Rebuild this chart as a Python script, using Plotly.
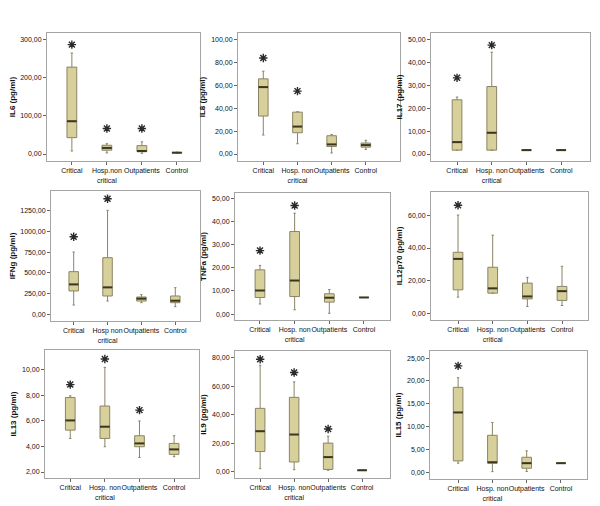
import plotly.graph_objects as go

W, H = 600, 506

# ---------------- data ----------------
groups = ["Critical", "Hosp. non critical", "Outpatients", "Control"]
positions = [0, 1, 2, 3]

titles = ["IL6 (pg/ml)", "IL8 (pg/ml)", "IL17 (pg/ml)",
          "IFNg (pg/ml)", "TNFa (pg/ml)", "IL12p70 (pg/ml)",
          "IL13 (pg/ml)", "IL9 (pg/ml)", "IL15 (pg/ml)"]

cat_labels = [
    ["Critical", "Hosp.non<br>critical", "Outpatients", "Control"],
    ["Critical", "Hosp. non<br>critical", "Outpatients", "Control"],
    ["Critical", "Hosp. non<br>critical", "Outpatients", "Control"],
    ["Critical", "Hosp non<br>critical", "Outpatients", "Control"],
    ["Critical", "Hosp. non<br>critical", "Outpatients", "Control"],
    ["Critical", "Hosp. non<br>critical", "Outpatients", "Control"],
    ["Critical", "Hosp. non<br>critical", "Outpatients", "Control"],
    ["Critical", "Hosp. non<br>critical", "Outpatients", "Control"],
    ["Critical", "Hosp. non<br>critical", "Outpatients", "Control"],
]

il6_lower = [8, 3, 2, 2.5]
il6_q1 = [43, 10, 6, 3]
il6_med = [86, 16, 8, 3.5]
il6_q3 = [228, 23, 22, 4.2]
il6_upper = [265, 27, 32, 5]
il6_star = [287, 67, 67, None]

il8_lower = [16.6, 9, 0.9, 4]
il8_q1 = [33.2, 18.6, 6.6, 6]
il8_med = [58.5, 24, 8.4, 7.8]
il8_q3 = [65.7, 36.6, 16, 9.6]
il8_upper = [72.4, 37, 17.1, 12]
il8_star = [84, 55, None, None]

il17_lower = [1.7, 1.7, 1.7, 1.7]
il17_q1 = [1.7, 1.7, 1.7, 1.7]
il17_med = [5.2, 9.3, 1.7, 1.7]
il17_q3 = [23.7, 29.5, 1.7, 1.7]
il17_upper = [24.9, 44.5, 1.7, 1.7]
il17_star = [33.3, 47.6, None, None]

ifng_lower = [113, 161, 141, 93]
ifng_q1 = [283, 222, 161, 141]
ifng_med = [362, 326, 190, 165]
ifng_q3 = [516, 685, 210, 222]
ifng_upper = [753, 1256, 238, 322]
ifng_star = [938, 1397, None, None]

tnfa_lower = [4.4, 1.9, 0.4, 7.2]
tnfa_q1 = [7.2, 7.6, 5.2, 7.2]
tnfa_med = [10.2, 14.5, 7.1, 7.2]
tnfa_q3 = [19.1, 35.6, 8.8, 7.2]
tnfa_upper = [21, 43.5, 10.6, 7.2]
tnfa_star = [27.4, 46.8, None, None]

il12_lower = [10.2, 12.6, 4.5, 5.1]
il12_q1 = [14.6, 12.6, 9.1, 8.2]
il12_med = [33.4, 15.5, 10.6, 13.8]
il12_q3 = [37.4, 28.3, 18.7, 16.7]
il12_upper = [60, 47.8, 22.2, 28.9]
il12_star = [66, None, None, None]

il13_lower = [4.63, 3.98, 3.14, 3.2]
il13_q1 = [5.28, 4.63, 3.98, 3.38]
il13_med = [6.04, 5.55, 4.24, 3.77]
il13_q3 = [7.84, 7.17, 4.84, 4.24]
il13_upper = [7.97, 10.2, 6.0, 4.84]
il13_star = [8.85, 10.86, 6.85, None]

il9_lower = [2.3, 1.6, 1.2, 1.2]
il9_q1 = [14.3, 7, 1.8, 1.2]
il9_med = [28.5, 26.2, 10.4, 1.2]
il9_q3 = [44.5, 52.2, 20.2, 1.2]
il9_upper = [74.6, 63, 25, 1.2]
il9_star = [78.8, 69.6, 30.1, None]

il15_lower = [2, 0.15, 0.2, 2]
il15_q1 = [2.5, 2.0, 0.9, 2]
il15_med = [13.1, 2.2, 2.0, 2]
il15_q3 = [18.6, 8.1, 3.3, 2]
il15_upper = [20.7, 10.9, 4.7, 2]
il15_star = [23.3, None, None, None]

yticks = [
    [0, 100, 200, 300],
    [0, 20, 40, 60, 80, 100],
    [0, 10, 20, 30, 40, 50],
    [0, 250, 500, 750, 1000, 1250],
    [0, 10, 20, 30, 40, 50],
    [0, 20, 40, 60],
    [2, 4, 6, 8, 10],
    [0, 20, 40, 60, 80],
    [0, 5, 10, 15, 20, 25],
]

panels = [
    (il6_lower, il6_q1, il6_med, il6_q3, il6_upper, il6_star),
    (il8_lower, il8_q1, il8_med, il8_q3, il8_upper, il8_star),
    (il17_lower, il17_q1, il17_med, il17_q3, il17_upper, il17_star),
    (ifng_lower, ifng_q1, ifng_med, ifng_q3, ifng_upper, ifng_star),
    (tnfa_lower, tnfa_q1, tnfa_med, tnfa_q3, tnfa_upper, tnfa_star),
    (il12_lower, il12_q1, il12_med, il12_q3, il12_upper, il12_star),
    (il13_lower, il13_q1, il13_med, il13_q3, il13_upper, il13_star),
    (il9_lower, il9_q1, il9_med, il9_q3, il9_upper, il9_star),
    (il15_lower, il15_q1, il15_med, il15_q3, il15_upper, il15_star),
]

# ---------------- layout (pixels) ----------------
frames = [  # left, right, top, bottom
    (39, 192, 25, 153), (230, 392, 25, 153), (423, 582, 25, 153),
    (43, 192, 183, 313), (227, 382, 185, 312), (423, 580, 184, 312),
    (37, 191, 342, 470), (227, 382, 343, 470), (422, 579, 343, 471),
]
yranges = [
    [-18.3, 317.5], [-6.1, 105.8], [-3.05, 52.9],
    [-80, 1490], [-2.5, 52.2], [-3.7, 74],
    [1.53, 11.56], [-4.2, 84.6], [-1.46, 26.55],
]
xranges = [
    [-0.71, 3.66], [-0.74, 4.0], [-0.75, 3.83],
    [-0.67, 3.73], [-0.72, 3.75], [-0.78, 3.75],
    [-0.73, 3.72], [-0.74, 3.82], [-0.82, 3.76],
]

FILL = "#d7d09b"
EDGE = "#8a8464"
MED = "#3b3522"
STAR = "#2a2a2a"
FONT = "Liberation Sans, Arial, sans-serif"
BOXW = 0.28

fig = go.Figure()

for i, (lo, q1, med, q3, up, star) in enumerate(panels):
    n = "" if i == 0 else str(i + 1)
    xa, ya = "x" + n, "y" + n
    fig.add_trace(go.Box(
        x=positions, q1=q1, median=med, q3=q3, lowerfence=lo, upperfence=up,
        width=BOXW, whiskerwidth=0.25, fillcolor=FILL,
        line=dict(color=EDGE, width=1), boxpoints=False,
        xaxis=xa, yaxis=ya, showlegend=False, hoverinfo="skip",
    ))
    # median lines
    mx, my = [], []
    for p, m in zip(positions, med):
        mx += [p - BOXW / 2, p + BOXW / 2, None]
        my += [m, m, None]
    fig.add_trace(go.Scatter(
        x=mx, y=my, mode="lines", line=dict(color=MED, width=2),
        xaxis=xa, yaxis=ya, showlegend=False, hoverinfo="skip",
    ))
    # significance asterisks
    sx = [p for p, s in zip(positions, star) if s is not None]
    sy = [s for s in star if s is not None]
    fig.add_trace(go.Scatter(
        x=sx, y=sy, mode="markers",
        marker=dict(symbol="asterisk-open", size=7, color=STAR,
                    line=dict(color=STAR, width=1.4)),
        xaxis=xa, yaxis=ya, showlegend=False, hoverinfo="skip",
    ))

    l, r, t, b = frames[i]
    xkey = "xaxis" + n
    ykey = "yaxis" + n
    fig.layout[xkey] = dict(
        domain=[l / W, r / W], anchor=ya, range=xranges[i],
        tickvals=positions, ticktext=cat_labels[i], tickangle=0,
        ticks="outside", ticklen=3, tickcolor="#666",
        tickfont=dict(size=7, family=FONT, color="#111"),
        showgrid=False, zeroline=False, showline=True, mirror=True,
        linecolor="#a5a5a5", linewidth=1, fixedrange=True,
    )
    fig.layout[ykey] = dict(
        domain=[1 - b / H, 1 - t / H], anchor=xa, range=yranges[i],
        tickvals=yticks[i],
        ticktext=[f"{v:.2f}".replace(".", ",") for v in yticks[i]],
        ticks="outside", ticklen=3, tickcolor="#666",
        tickfont=dict(size=7, family=FONT, color="#111"),
        title=dict(text="<b>" + titles[i] + "</b>", standoff=4,
                   font=dict(size=8, family=FONT, color="#111")),
        showgrid=False, zeroline=False, showline=True, mirror=True,
        linecolor="#a5a5a5", linewidth=1, fixedrange=True,
    )

fig.update_layout(
    width=W, height=H,
    margin=dict(l=0, r=0, t=0, b=0),
    paper_bgcolor="white", plot_bgcolor="white",
    font=dict(family=FONT),
)

fig.write_html("out.html")
